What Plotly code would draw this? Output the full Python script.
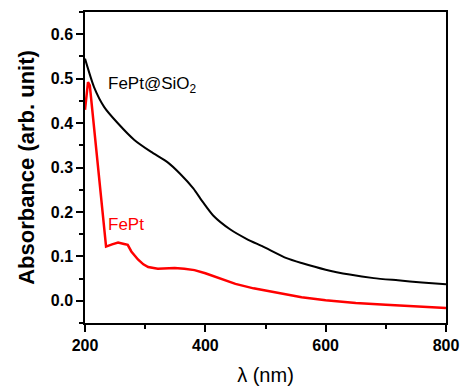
import plotly.graph_objects as go

# FePt@SiO2 (black)
wl_sio2 = [200, 215, 232, 255, 282, 310, 338, 358, 380, 396, 413, 441, 469, 496, 535, 560, 600, 640, 680, 720, 760, 800]
abs_sio2 = [0.545, 0.481, 0.436, 0.399, 0.362, 0.335, 0.311, 0.286, 0.253, 0.222, 0.192, 0.161, 0.139, 0.122, 0.096, 0.085, 0.070, 0.059, 0.051, 0.046, 0.041, 0.037]

# FePt (red)
wl_fept = [200, 205, 208, 224, 235, 245, 255, 265, 271, 277, 288, 297, 305, 321, 340, 349, 365, 382, 400, 421, 450, 480, 520, 560, 600, 650, 700, 750, 800]
abs_fept = [0.43, 0.492, 0.485, 0.272, 0.122, 0.127, 0.131, 0.128, 0.126, 0.111, 0.093, 0.082, 0.076, 0.072, 0.073, 0.074, 0.072, 0.069, 0.062, 0.052, 0.038, 0.028, 0.018, 0.008, 0.001, -0.005, -0.009, -0.013, -0.016]

x_ticks = [200, 400, 600, 800]
y_ticks = [0.0, 0.1, 0.2, 0.3, 0.4, 0.5, 0.6]

FONT = "Liberation Sans, Arial, sans-serif"

fig = go.Figure()
fig.add_trace(go.Scatter(x=wl_sio2, y=abs_sio2, mode="lines",
                         line=dict(color="black", width=2, shape="spline", smoothing=0.6),
                         showlegend=False))
fig.add_trace(go.Scatter(x=wl_fept, y=abs_fept, mode="lines",
                         line=dict(color="#ff0000", width=2.5),
                         showlegend=False))

fig.add_annotation(x=235, y=0.485, text="FePt@SiO<sub>2</sub>", showarrow=False,
                   xanchor="left", yanchor="middle",
                   font=dict(family=FONT, size=17, color="black"))
fig.add_annotation(x=235, y=0.172, text="FePt", showarrow=False,
                   xanchor="left", yanchor="middle",
                   font=dict(family=FONT, size=17, color="#ff0000"))

axis_common = dict(showline=True, linecolor="black", linewidth=1.5, mirror=True,
                   ticks="outside", ticklen=7, tickwidth=1.5, tickcolor="black",
                   showgrid=False, zeroline=False, automargin=False)

fig.update_xaxes(range=[200, 800], tickvals=x_ticks, ticktext=[str(v) for v in x_ticks],
                 tickfont=dict(family=FONT, size=16, color="black", weight="bold"),
                 minor=dict(ticks="outside", ticklen=4, tickwidth=1.5, tickcolor="black", dtick=100),
                 title=dict(text="λ (nm)", font=dict(family=FONT, size=20, color="black"), standoff=15),
                 **axis_common)
fig.update_yaxes(range=[-0.05, 0.65], tickvals=y_ticks, ticktext=[f"{v:.1f}" for v in y_ticks],
                 tickfont=dict(family=FONT, size=16, color="black", weight="bold"),
                 minor=dict(ticks="outside", ticklen=4, tickwidth=1.5, tickcolor="black", dtick=0.05),
                 title=dict(text="Absorbance (arb. unit)",
                            font=dict(family=FONT, size=22, color="black", weight="bold"), standoff=10),
                 **axis_common)

fig.update_layout(width=462, height=386, margin=dict(l=85, r=16, t=12, b=63),
                  plot_bgcolor="white", paper_bgcolor="white")

fig.write_html("out.html", config={"displayModeBar": False},
               post_script="document.body.style.margin='0px';document.body.style.overflow='hidden';")
